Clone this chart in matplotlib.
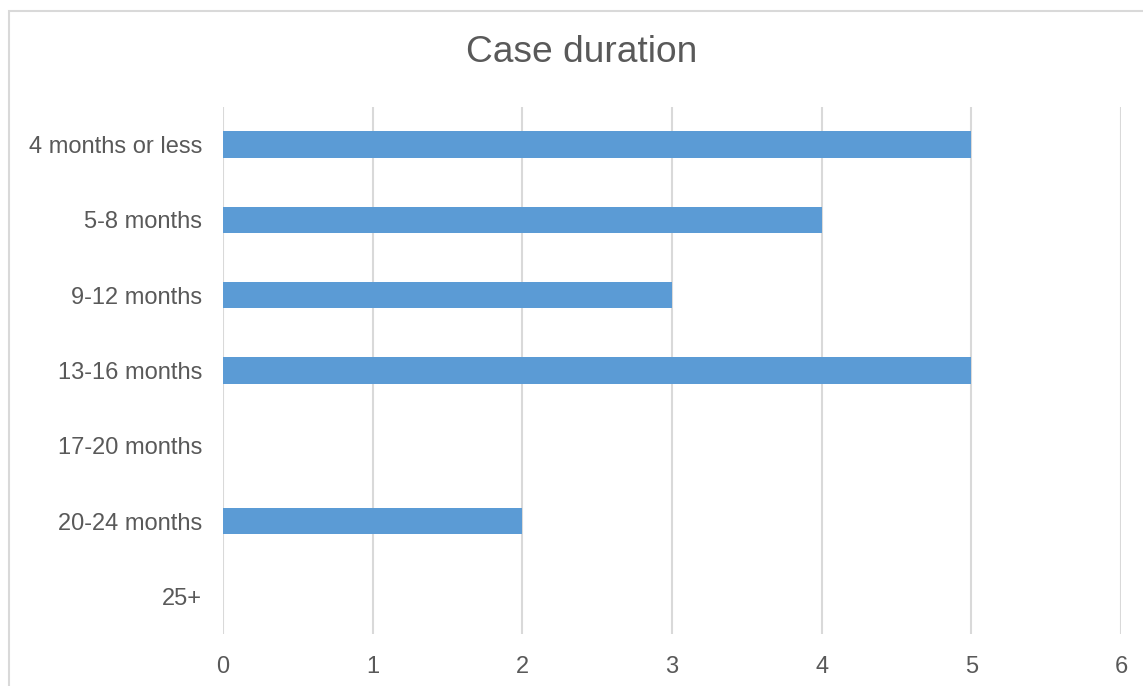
import matplotlib.pyplot as plt
from matplotlib.patches import Rectangle

# Data
categories = ["4 months or less", "5-8 months", "9-12 months", "13-16 months",
              "17-20 months", "20-24 months", "25+"]
cases = [5, 4, 3, 5, 0, 2, 0]
x_ticks = [0, 1, 2, 3, 4, 5, 6]

plt.rcParams['font.family'] = ['Liberation Sans', 'DejaVu Sans']
TEXT = "#595959"
GRID = "#D9D9D9"

fig = plt.figure(figsize=(11.43, 6.86), dpi=100)
ax = fig.add_axes([223 / 1143, 1 - 634 / 686, (1121 - 223) / 1143, (634 - 107) / 686])

# Chart frame (runs off the right and bottom edges)
fig.patches.append(Rectangle((9 / 1143, -0.1), 1.2, 1 - 11 / 686 + 0.1,
                             transform=fig.transFigure, fill=False,
                             edgecolor=GRID, linewidth=1.5))

y = list(range(len(categories)))
ax.barh(y, cases, height=0.35, color="#5B9BD5", zorder=3)

ax.set_ylim(len(categories) - 0.5, -0.5)
ax.set_xlim(0, 6)
ax.set_xticks(x_ticks)
ax.set_yticks(y)
ax.set_yticklabels(categories)

ax.grid(axis="x", color=GRID, linewidth=1.5, zorder=0)
for s in ax.spines.values():
    s.set_visible(False)
ax.tick_params(axis="both", length=0, labelsize=17, colors=TEXT)
ax.tick_params(axis="y", pad=15)
ax.tick_params(axis="x", pad=15.5)

fig.text(582 / 1143, 1 - 53 / 686, "Case duration", ha="center", va="center",
         fontsize=26.7, color=TEXT)

fig.savefig("out.png", dpi=100)
